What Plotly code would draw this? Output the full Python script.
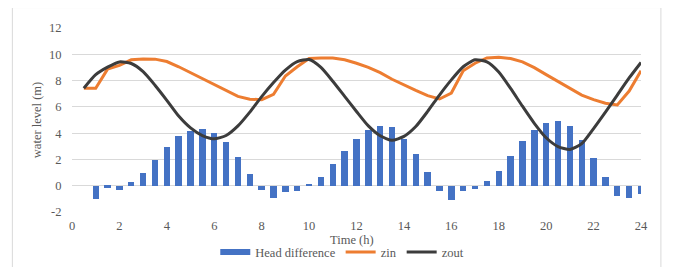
import plotly.graph_objects as go

time_h = [0.5, 1, 1.5, 2, 2.5, 3, 3.5, 4, 4.5, 5, 5.5, 6, 6.5, 7, 7.5, 8, 8.5, 9, 9.5, 10,
          10.5, 11, 11.5, 12, 12.5, 13, 13.5, 14, 14.5, 15, 15.5, 16, 16.5, 17, 17.5, 18,
          18.5, 19, 19.5, 20, 20.5, 21, 21.5, 22, 22.5, 23, 23.5, 24]

head_diff = [0.0, -1.0, -0.15, -0.3, 0.25, 0.94, 1.95, 2.96, 3.75, 4.18, 4.35, 4.03, 3.34, 2.18,
             0.89, -0.3, -0.91, -0.46, -0.38, 0.13, 0.63, 1.65, 2.66, 3.57, 4.25, 4.58, 4.43,
             3.57, 2.4, 1.01, -0.38, -1.06, -0.38, -0.23, 0.33, 1.09, 2.25, 3.42, 4.25, 4.81,
             4.96, 4.56, 3.49, 2.1, 0.63, -0.76, -0.91, -0.61]

zin = [7.42, 7.42, 8.87, 9.15, 9.58, 9.65, 9.63, 9.45, 9.05, 8.6, 8.15, 7.65, 7.2, 6.8, 6.58,
       6.55, 6.95, 8.35, 9.05, 9.68, 9.72, 9.72, 9.58, 9.32, 9.0, 8.6, 8.1, 7.65, 7.25, 6.85,
       6.6, 7.05, 8.75, 9.32, 9.72, 9.78, 9.68, 9.42, 8.98, 8.45, 7.92, 7.38, 6.9, 6.55, 6.28,
       6.15, 7.2, 8.75]

zout = [7.42, 8.45, 9.02, 9.42, 9.3, 8.68, 7.65, 6.5, 5.3, 4.4, 3.82, 3.57, 3.82, 4.55, 5.6,
        6.78, 7.85, 8.8, 9.45, 9.6, 9.0, 7.95, 6.8, 5.65, 4.55, 3.8, 3.45, 3.75, 4.5, 5.65,
        6.9, 8.05, 9.05, 9.58, 9.42, 8.65, 7.4, 6.05, 4.75, 3.65, 2.98, 2.76, 3.2, 4.35, 5.6,
        6.9, 8.2, 9.38]

x_ticks = [0, 2, 4, 6, 8, 10, 12, 14, 16, 18, 20, 22, 24]
y_ticks = [-2, 0, 2, 4, 6, 8, 10, 12]
y_tick_text = ["-2", "0", "2", "4", "6", "8", "10", "12"]

BLUE = "#4472C4"
ORANGE = "#ED7D31"
DARK = "#3C3C3C"
GREY_TXT = "#595959"
GRID = "#D9D9D9"
FONT = "'Liberation Serif', 'DejaVu Serif', serif"
FS = 12.5

fig = go.Figure()
fig.add_trace(go.Bar(x=time_h, y=head_diff, width=0.27, marker=dict(color=BLUE, line=dict(width=0)),
                     name="Head difference", showlegend=False))
fig.add_trace(go.Scatter(x=time_h, y=zin, mode="lines", name="zin", showlegend=False,
                         line=dict(color=ORANGE, width=3)))
fig.add_trace(go.Scatter(x=time_h, y=zout, mode="lines", name="zout", showlegend=False,
                         line=dict(color=DARK, width=3, shape="spline", smoothing=0.6)))
# legend entries
fig.add_trace(go.Scatter(x=[None], y=[None], mode="lines", name="Head difference",
                         line=dict(color=BLUE, width=6)))
fig.add_trace(go.Scatter(x=[None], y=[None], mode="lines", name="zin",
                         line=dict(color=ORANGE, width=3)))
fig.add_trace(go.Scatter(x=[None], y=[None], mode="lines", name="zout",
                         line=dict(color=DARK, width=3)))

fig.update_layout(
    width=667, height=259,
    margin=dict(l=64, r=34, t=20, b=55, autoexpand=False),
    paper_bgcolor="white", plot_bgcolor="white",
    font=dict(family=FONT, size=FS, color=GREY_TXT),
    bargap=0,
    legend=dict(orientation="h", x=0.475, xanchor="center", y=-0.22, yanchor="middle",
                font=dict(family=FONT, size=FS, color=GREY_TXT), itemwidth=30,
                bgcolor="rgba(0,0,0,0)", tracegroupgap=0),
    shapes=[dict(type="rect", xref="paper", yref="paper", x0=-0.1048, x1=1.035,
                 y0=-0.4, y1=1.111, line=dict(color=GRID, width=1), fillcolor="rgba(0,0,0,0)",
                 layer="below")],
    annotations=[dict(text="Time (h)", xref="paper", yref="paper", x=0.4927, y=-0.152,
                      xanchor="center", yanchor="middle", showarrow=False,
                      font=dict(family=FONT, size=FS, color=GREY_TXT))],
)
fig.update_xaxes(range=[0, 24], tickvals=x_ticks, showgrid=False, zeroline=False,
                 showline=False, ticks="outside", ticklen=2, tickcolor="rgba(0,0,0,0)",
                 automargin=False,
                 tickfont=dict(family=FONT, size=FS, color=GREY_TXT))
fig.update_yaxes(range=[-2, 12], tickvals=y_ticks, ticktext=y_tick_text, showgrid=True,
                 gridcolor=GRID, gridwidth=1, zeroline=False, showline=False,
                 ticks="outside", ticklen=7, tickcolor="rgba(0,0,0,0)", automargin=False,
                 tickfont=dict(family=FONT, size=FS, color=GREY_TXT),
                 title=dict(text="water level (m)", standoff=4,
                            font=dict(family=FONT, size=FS, color=GREY_TXT)))

fig.write_html("out.html")
